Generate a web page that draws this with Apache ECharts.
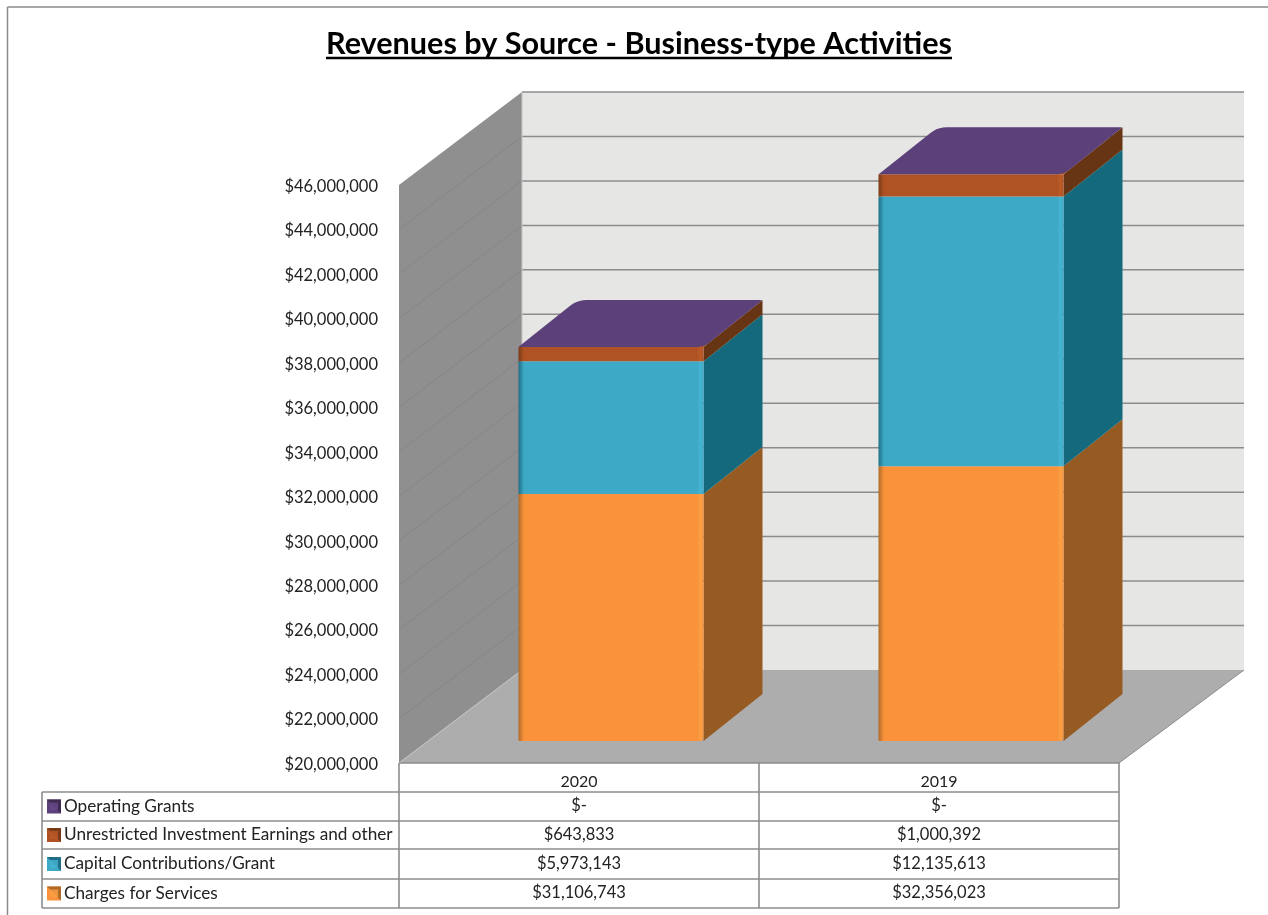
<!DOCTYPE html>
<html><head><meta charset="utf-8">
<style>html,body{margin:0;padding:0;background:#fff}#c{width:1268px;height:915px}</style>
<script src="https://cdn.jsdelivr.net/npm/echarts@6/dist/echarts.min.js"></script>
</head><body><div id="c"></div>
<script>
const categories = ['2020', '2019'];
const seriesNames = ['Operating Grants', 'Unrestricted Investment Earnings and other', 'Capital Contributions/Grant', 'Charges for Services'];
const operatingGrants = [0, 0];
const investmentEarnings = [643833, 1000392];
const capitalContributions = [5973143, 12135613];
const chargesForServices = [31106743, 32356023];
const axisMin = 20000000, axisMax = 46000000, axisStep = 2000000;

const FONT = 'Lato';
const TEXT = '#222';
const LINE = '#8c8c8c';
// oblique depth of the chart box and of the bars within it
const DX = 123, DX_RIGHT = 125, DY = -93, BAR_DX = 32, BAR_DY = -22, BAR_DEPTH_X = 59, BAR_DEPTH_Y = -47, BAR_W = 185;
const money = v => v === 0 ? '$-' : '$' + v.toLocaleString('en-US');

const looks = {
  charges: {front: '#F9923A', dark: '#B06A28', light: '#FDA044', side: '#965A23'},
  capital: {front: '#3DA9C7', dark: '#1F6E85', light: '#45B4D3', side: '#15697C'},
  invest:  {front: '#B05324', dark: '#7A3A18', light: '#BC5A28', side: '#673513'},
  grants:  {front: '#5C4079', dark: '#3E2B52', light: '#664888', side: '#46305E'}
};

function chamfer(pts, radii) {
  const out = [];
  pts.forEach((p, i) => {
    const a = pts[(i + pts.length - 1) % pts.length], b = pts[(i + 1) % pts.length], r = radii[i];
    const la = Math.hypot(a[0] - p[0], a[1] - p[1]), lb = Math.hypot(b[0] - p[0], b[1] - p[1]);
    const s = [p[0] + (a[0] - p[0]) * r / la, p[1] + (a[1] - p[1]) * r / la];
    const e = [p[0] + (b[0] - p[0]) * r / lb, p[1] + (b[1] - p[1]) * r / lb];
    for (let t = 0; t <= 1.001; t += 0.2) {
      const u = 1 - t;
      out.push([u * u * s[0] + 2 * u * t * p[0] + t * t * e[0], u * u * s[1] + 2 * u * t * p[1] + t * t * e[1]]);
    }
  });
  return out;
}

function boxItem(params, api) {
  const band = api.size([1, 0])[0];
  const x0 = api.coord([0, axisMin])[0] - band / 2;
  const x1 = api.coord([1, axisMin])[0] + band / 2;
  const yB = api.coord([0, axisMin])[1], yT = api.coord([0, axisMax])[1];
  const kids = [
    {type: 'polygon', shape: {points: [[x0 + DX, yT + DY], [x1 + DX_RIGHT, yT + DY], [x1 + DX_RIGHT, yB + DY], [x0 + DX, yB + DY]]}, style: {fill: '#E6E6E5'}},
    {type: 'polygon', shape: {points: [[x0, yT], [x0 + DX, yT + DY], [x0 + DX, yB + DY], [x0, yB]]}, style: {fill: '#8F8F8F'}},
    {type: 'polygon', shape: {points: [[x0, yB], [x0 + DX, yB + DY], [x1 + DX_RIGHT, yB + DY], [x1, yB]]}, style: {fill: '#ADADAD'}}
  ];
  for (let v = axisMin; v <= axisMax; v += axisStep) {
    const y = api.coord([0, v])[1];
    if (v > axisMin) {
      kids.push({type: 'line', shape: {x1: x0 + DX, y1: y + DY, x2: x1 + DX_RIGHT, y2: y + DY}, style: {stroke: LINE, lineWidth: 1.5}});
      if (v < axisMax) kids.push({type: 'line', shape: {x1: x0, y1: y, x2: x0 + DX, y2: y + DY}, style: {stroke: '#868686', lineWidth: 1}});
    }
  }
  kids.push({type: 'line', shape: {x1: x0 + DX, y1: yT + DY, x2: x0 + DX, y2: yB + DY}, style: {stroke: '#c4c4c4', lineWidth: 1}});
  kids.push({type: 'line', shape: {x1: x0, y1: yB, x2: x0 + DX, y2: yB + DY}, style: {stroke: '#c4c4c4', lineWidth: 1}});
  kids.push({type: 'line', shape: {x1: x1, y1: yB, x2: x1 + DX_RIGHT, y2: yB + DY}, style: {stroke: LINE, lineWidth: 1}});
  return {type: 'group', children: kids};
}

function barItem(look, isTop, under) {
  return function (params, api) {
    const cat = api.value(0), lo = api.value(1), hi = api.value(2);
    const c = api.coord([cat, lo]), t = api.coord([cat, hi]);
    const left = c[0] + BAR_DX - BAR_W / 2, right = left + BAR_W;
    const yLo = c[1] + BAR_DY, yHi = t[1] + BAR_DY;
    const kids = [];
    if (yLo - yHi > 0.01) {
      kids.push({type: 'polygon', shape: {points: [[right, yHi], [right + BAR_DEPTH_X, yHi + BAR_DEPTH_Y], [right + BAR_DEPTH_X, yLo + BAR_DEPTH_Y], [right, yLo]]}, style: {fill: look.side}});
      kids.push({type: 'rect', shape: {x: left, y: yHi, width: BAR_W, height: yLo - yHi, r: lo === axisMin ? [0, 0, 4, 1] : 0},
        style: {fill: {type: 'linear', x: 0, y: 0, x2: 1, y2: 0, colorStops: [
          {offset: 0, color: look.dark}, {offset: 0.03, color: look.front}, {offset: 0.965, color: look.front},
          {offset: 0.985, color: look.light}, {offset: 1, color: look.front}]}}});
    }
    if (isTop) {
      // the rounded front corner of the top face shows the face below it
      kids.push({type: 'polygon', shape: {points: [[right - 8, yHi], [right, yHi], [right + 6, yHi - 5], [right - 2, yHi - 5]]}, style: {fill: under}});
      const pts = chamfer([[left, yHi], [right, yHi], [right + BAR_DEPTH_X, yHi + BAR_DEPTH_Y], [left + BAR_DEPTH_X, yHi + BAR_DEPTH_Y]], [1, 7, 2, 9]);
      kids.push({type: 'polygon', shape: {points: pts}, style: {fill: look.front}});
    }
    return {type: 'group', children: kids};
  };
}

function tableItem(params, api) {
  const band = api.size([1, 0])[0];
  const x0 = api.coord([0, axisMin])[0] - band / 2;
  const xMid = x0 + band, x1 = xMid + band;
  const yB = api.coord([0, axisMin])[1];
  const tableLeft = 42, rows = [yB + 29, yB + 58, yB + 86, yB + 116, yB + 145];
  const line = (a, b, c, d) => ({type: 'line', shape: {x1: a, y1: b, x2: c, y2: d}, style: {stroke: LINE, lineWidth: 1.6}});
  const kids = [line(x0, yB, x1, yB), line(x0, yB, x0, rows[4]), line(xMid, yB, xMid, rows[4]), line(x1, yB, x1, rows[4]), line(tableLeft, rows[0], tableLeft, rows[4])];
  rows.forEach(y => kids.push(line(tableLeft, y, x1, y)));
  const cols = [operatingGrants, investmentEarnings, capitalContributions, chargesForServices];
  const keys = [looks.grants, looks.invest, looks.capital, looks.charges];
  const txt = (x, y, s, align, size) => ({type: 'text', style: {x, y, text: s, fill: TEXT, font: size + 'px ' + FONT, align, verticalAlign: 'middle'}});
  seriesNames.forEach((n, i) => {
    const yc = (rows[i] + rows[i + 1]) / 2;
    const kx = tableLeft + 5, ky = yc - 7, ks = 14, m = ks / 2;
    const k = keys[i];
    kids.push({type: 'rect', shape: {x: kx, y: ky, width: ks, height: ks}, style: {fill: k.front}});
    kids.push({type: 'polygon', shape: {points: [[kx, ky], [kx + ks, ky], [kx + m, ky + m]]}, style: {fill: k.dark}});
    kids.push({type: 'polygon', shape: {points: [[kx + ks, ky], [kx + ks, ky + ks], [kx + m, ky + m]]}, style: {fill: k.dark}});
    kids.push({type: 'rect', shape: {x: kx + 3, y: ky + 3, width: ks - 6, height: ks - 6}, style: {fill: k.light, opacity: 0.8}});
    kids.push(txt(tableLeft + 22, yc - 0.5, n, 'left', 17.2));
    kids.push(txt(x0 + band / 2, yc - 0.5, money(cols[i][0]), 'center', 16.5));
    kids.push(txt(xMid + band / 2, yc - 0.5, money(cols[i][1]), 'center', 16.5));
  });
  return {type: 'group', children: kids};
}

const base1 = chargesForServices.slice();
const base2 = base1.map((v, i) => v + capitalContributions[i]);
const base3 = base2.map((v, i) => v + investmentEarnings[i]);
const bar = (name, look, vals, bases, isTop, under) => ({
  type: 'custom', name, silent: true, clip: false, z: 3,
  coordinateSystem: 'cartesian2d', renderItem: barItem(look, isTop, under),
  encode: {x: 0, y: [1, 2]},
  data: categories.map((_, i) => [i, Math.max(axisMin, bases[i]), bases[i] + vals[i]])
});

const chart = echarts.init(document.getElementById('c'), null, {renderer: 'canvas'});
chart.setOption({
  animation: false,
  backgroundColor: '#fff',
  title: {
    text: 'Revenues by Source - Business-type Activities',
    left: 634, top: 20, textAlign: 'center',
    textStyle: {fontFamily: FONT, fontWeight: 'bold', fontSize: 30.6, color: '#000', lineHeight: 38}
  },
  graphic: [
    {type: 'line', silent: true, shape: {x1: 7.5, y1: 7, x2: 1268, y2: 7}, style: {stroke: '#8a8a8a', lineWidth: 1.5}},
    {type: 'line', silent: true, shape: {x1: 7.5, y1: 7, x2: 7.5, y2: 915}, style: {stroke: '#8a8a8a', lineWidth: 1.5}},
    {type: 'line', silent: true, shape: {x1: 326, y1: 58, x2: 952, y2: 58}, style: {stroke: '#000', lineWidth: 2.4}}
  ],
  grid: {left: 399, right: 149, top: 185, bottom: 152, containLabel: false},
  xAxis: {
    type: 'category', data: categories,
    axisLine: {show: false}, axisTick: {show: false}, splitLine: {show: false},
    axisLabel: {fontFamily: FONT, fontSize: 16, color: TEXT, margin: 11}
  },
  yAxis: {
    type: 'value', min: axisMin, max: axisMax, interval: axisStep,
    axisLine: {show: false}, axisTick: {show: false}, splitLine: {show: false},
    axisLabel: {
      margin: 21,
      formatter: v => '{a|$' + v.toLocaleString('en-US') + '}',
      rich: {a: {fontFamily: FONT, fontSize: 16.5, color: TEXT, padding: [3, 0, 0, 0]}}
    }
  },
  series: [
    {type: 'custom', silent: true, clip: false, z: 1, renderItem: boxItem, coordinateSystem: 'cartesian2d', encode: {x: 0, y: 1}, data: [[0, axisMin]]},
    {type: 'custom', silent: true, clip: false, z: 2, renderItem: tableItem, coordinateSystem: 'cartesian2d', encode: {x: 0, y: 1}, data: [[0, axisMin]]},
    bar(seriesNames[3], looks.charges, chargesForServices, categories.map(() => 0), false),
    bar(seriesNames[2], looks.capital, capitalContributions, base1, false),
    bar(seriesNames[1], looks.invest, investmentEarnings, base2, false),
    bar(seriesNames[0], looks.grants, operatingGrants, base3, true, looks.invest.front)
  ]
});
</script></body></html>
